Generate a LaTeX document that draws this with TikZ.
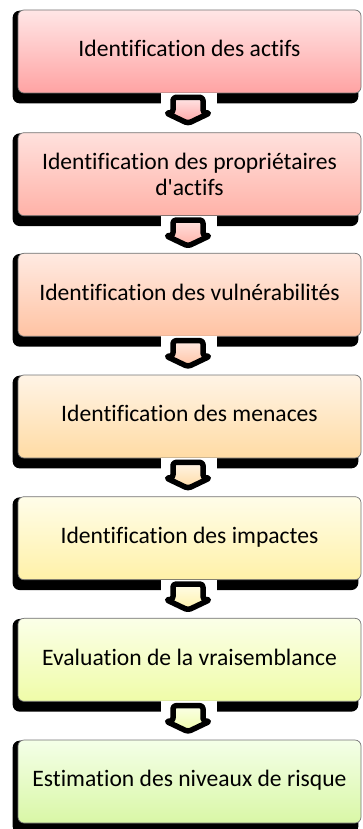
\documentclass[tikz,border=0pt]{standalone}
\usepackage{fontspec}
\setmainfont{Carlito}[Ligatures={NoCommon}]
\usetikzlibrary{backgrounds,calc}

% gradient colours of the seven stages (top / bottom)
\definecolor{ctop1}{HTML}{FFE6E6}\definecolor{cbot1}{HTML}{FFA3A3}
\definecolor{ctop2}{HTML}{FFE1DD}\definecolor{cbot2}{HTML}{FFB2A8}
\definecolor{ctop3}{HTML}{FFEAE2}\definecolor{cbot3}{HTML}{FFC3A3}
\definecolor{ctop4}{HTML}{FFF4E6}\definecolor{cbot4}{HTML}{FFDBA4}
\definecolor{ctop5}{HTML}{FFFDE9}\definecolor{cbot5}{HTML}{FFF1A8}
\definecolor{ctop6}{HTML}{FBFFE8}\definecolor{cbot6}{HTML}{EFFCA8}
\definecolor{ctop7}{HTML}{F4FFE8}\definecolor{cbot7}{HTML}{D9F7A6}

\begin{document}
\begin{tikzpicture}[x=1pt,y=-1pt,
  stage/.style={draw=black!55, line width=0.7pt, rounded corners=6pt,
    minimum width=343pt, minimum height=83pt, inner sep=0pt,
    font=\fontsize{23.6}{26}\selectfont, align=center, text=black},
  oneline/.style={text height=16pt, text depth=5.5pt},
  stageshadow/.style={fill=black, rounded corners=7pt},
  flowarrow/.style={draw=black, line width=5.5pt, line join=round, rounded corners=3pt}]

\useasboundingbox (0,0) rectangle (362,829);

% the stages
\node[stage, oneline, top color=ctop1, bottom color=cbot1] (b1) at (189.5,51.5) {Identification des actifs};
\node[stage, top color=ctop2, bottom color=cbot2] (b2) at (189.5,174.2) {Identification des propriétaires\\d\textquotesingle actifs};
\node[stage, oneline, top color=ctop3, bottom color=cbot3] (b3) at (189.5,294.8) {Identification des vulnérabilités};
\node[stage, oneline, top color=ctop4, bottom color=cbot4] (b4) at (189.5,416.5) {Identification des menaces};
\node[stage, oneline, top color=ctop5, bottom color=cbot5] (b5) at (189.5,538.2) {Identification des impactes};
\node[stage, oneline, top color=ctop6, bottom color=cbot6] (b6) at (189.5,659.8) {Evaluation de la vraisemblance};
\node[stage, oneline, top color=ctop7, bottom color=cbot7] (b7) at (189.5,781.5) {Estimation des niveaux de risque};

% heavy black shadows behind each stage
\begin{scope}[on background layer]
  \foreach \i in {1,...,7}
    \fill[stageshadow] ($(b\i.north west)+(-5,1)$) rectangle ($(b\i.south east)+(-3,10)$);
\end{scope}

% block arrows from each stage to the next
\foreach \i/\j in {1/2,2/3,3/4,4/5,5/6,6/7} {
  \fill[white] ($(b\i.south)+(-28.5,-0.5)$) rectangle ($(b\j.north)+(27.5,-2.5)$);
  \draw[flowarrow, top color=ctop\i, bottom color=cbot\i]
    ($(b\i.south)+(-16.5,4)$) -- ++(30,0) -- ++(0,15.5) -- ++(7,0)
    -- ($(b\i.south)+(-1.5,30)$) -- ($(b\i.south)+(-23.5,19.5)$) -- ++(7,0) -- cycle;
}
\end{tikzpicture}
\end{document}
